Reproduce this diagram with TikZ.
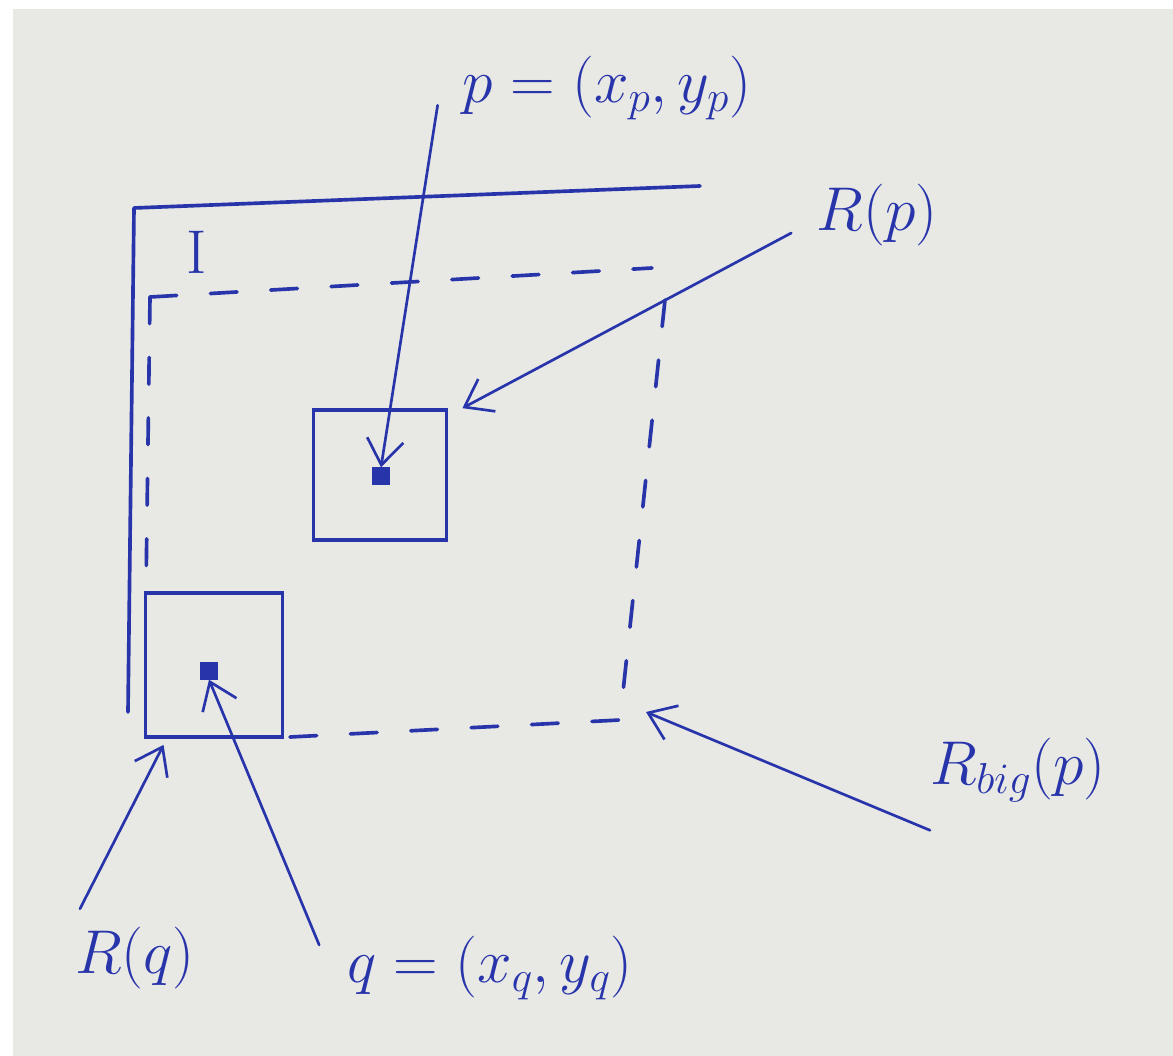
\RequirePackage{fix-cm}
\documentclass[tikz,border=0pt]{standalone}
\usetikzlibrary{arrows.meta,calc}
\definecolor{inkc}{RGB}{40,52,170}
\definecolor{paperc}{RGB}{232,232,229}
\begin{document}
\begin{tikzpicture}[x=0.025cm,y=-0.025cm,
  pen/.style={draw=inkc,line width=2.6pt,line cap=round,line join=round},
  dashpen/.style={draw=inkc,line width=2.6pt,line cap=round,dash pattern=on 19pt off 24pt},
  arr/.style={draw=inkc,line width=1.9pt,line cap=round,-{Straight Barb[length=18pt,width=26pt,line width=1.9pt]}},
  box/.style={draw=inkc,line width=2.6pt,inner sep=0pt},
  dot/.style={fill=inkc,draw=inkc,minimum size=0.42cm,inner sep=0pt},
  lab/.style={text=inkc,font=\fontsize{44}{48}\selectfont,inner sep=0pt}]
\fill[white] (0,0) rectangle (1173,1056);
\fill[paperc] (13,9) rectangle (1173,1056);
\useasboundingbox (0,0) rectangle (1173,1056);
% outer frame I
\coordinate (Itl) at (134,208);
\coordinate (Itr) at (700,186);
\coordinate (Ibl) at (128,712);
\draw[pen] (Itr) -- (Itl) -- (Ibl);
\node[lab] (Ilab) at (197,252) {\textrm{I}};
% dashed big region
\coordinate (Btl) at (150,297);
\coordinate (Btr) at (652,268);
\coordinate (Brt) at (665,300);
\coordinate (Bcorner) at (620,720);
\coordinate (Bbl) at (290,737);
\coordinate (Blb) at (146,590);
\draw[dashpen] (Btl) -- (Btr);
\draw[dashpen] (Brt) -- (Bcorner);
\draw[dashpen] (Bbl) -- (Bcorner);
\draw[dashpen] (Btl) -- (Blb);
% squares
\node[box,minimum width=3.33cm,minimum height=3.25cm] (Rp) at (380,475) {};
\node[box,minimum width=3.43cm,minimum height=3.6cm] (Rq) at (214,665) {};
\node[dot] (pdot) at (381,476) {};
\node[dot] (qdot) at (209,671) {};
% labels
\node[lab] (ptext) at (607,88) {$p=(x_p,y_p)$};
\node[lab] (Rptext) at (877,215) {$R(p)$};
\node[lab] (Rbigtext) at (1018,770) {$R_{big}(p)$};
\node[lab] (Rqtext) at (135,958) {$R(q)$};
\node[lab] (qtext) at (490,968) {$q=(x_q,y_q)$};
% connectors
\draw[arr] ($(ptext.south west)+(-25,-15)$) -- (pdot.north);
\draw[arr] ($(Rptext.west)+(-25,18)$) -- ($(Rp.north east)+(14,0)$);
\draw[arr] ($(Rbigtext.south west)+(0,28)$) -- ($(Bcorner)+(26,-8)$);
\draw[arr] ($(Rqtext.north west)+(5,-18)$) -- ($(Rq.south west)+(20,6)$);
\draw[arr] ($(qtext.west)+(-28,-23)$) -- (qdot.south);
\end{tikzpicture}
\end{document}
